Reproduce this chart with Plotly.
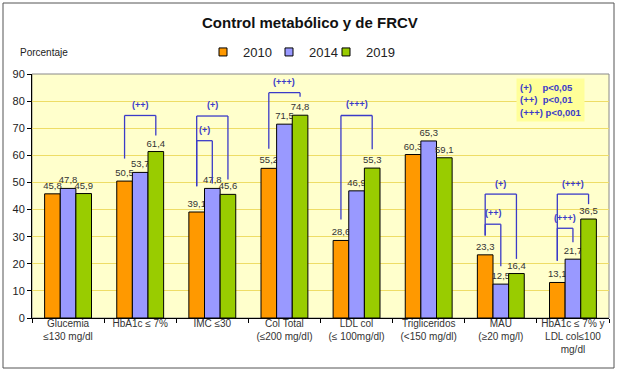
import plotly.graph_objects as go

categories = ["Glucemia<br>≤130 mg/dl", "HbA1c ≤ 7%", "IMC ≤30", "Col Total<br>(≤200 mg/dl)",
              "LDL col<br>(≤ 100mg/dl)", "Trigliceridos<br>(<150 mg/dl)", "MAU<br>(≥20 mg/l)",
              "HbA1c ≤ 7% y<br>LDL col≤100<br>mg/dl"]
years = ["2010", "2014", "2019"]
v2010 = [45.8, 50.5, 39.1, 55.2, 28.6, 60.3, 23.3, 13.1]
v2014 = [47.8, 53.7, 47.8, 71.5, 46.9, 65.3, 12.5, 21.7]
v2019 = [45.9, 61.4, 45.6, 74.8, 55.3, 59.1, 16.4, 36.5]
y_ticks = [0, 10, 20, 30, 40, 50, 60, 70, 80, 90]

# significance brackets: (group, from series, to series, label, top, left foot, right foot, label y)
brackets = [
    (1, 0, 2, "(++)", 74.7, 58.8, 67.3, 78.5),
    (2, 0, 2, "(+)", 74.5, 48.6, 51.1, 78.5),
    (2, 0, 1, "(+)", 65.4, 48.6, 49.6, 69.3),
    (3, 0, 2, "(+++)", 83.1, 62.4, 81.6, 87.0),
    (4, 0, 2, "(+++)", 74.7, 36.3, 62.2, 78.8),
    (6, 0, 2, "(+)", 45.7, 30.4, 21.8, 49.4),
    (6, 0, 1, "(++)", 34.6, 30.4, 19.1, 38.6),
    (7, 0, 2, "(+++)", 45.7, 21.1, 42.0, 49.4),
    (7, 0, 1, "(+++)", 33.1, 21.1, 27.9, 37.0),
]

colors = ["#FF9900", "#9999FF", "#99CC00"]
W, H = 619, 374
ML, MR, MT, MB = 32, 10, 74, 56
BARGAP = 0.35
bw = (1 - BARGAP) / 3
FONT = "Liberation Sans, Arial"

pw = W - ML - MR
ph = H - MT - MB
def px(xp):
    return (xp - ML) / pw
def py(yp):
    return (H - MB - yp) / ph

fig = go.Figure()
for name, vals, col in zip(years, [v2010, v2014, v2019], colors):
    fig.add_trace(go.Bar(
        x=categories, y=vals, name=name, showlegend=False,
        marker=dict(color=col, line=dict(color="#000000", width=1)),
        text=vals, texttemplate="%{y:.1f}", textposition="outside", constraintext="none",
        textfont=dict(size=9.5, color="#333333", family=FONT),
        cliponaxis=False,
    ))

# legend entries (small squares like the original), one legend box per year
legend_ids = ["legend", "legend2", "legend3"]
legend_px = [203, 269, 326]
for name, col, lid in zip(years, colors, legend_ids):
    fig.add_trace(go.Scatter(
        x=[None], y=[None], mode="markers", name=name, legend=lid,
        marker=dict(symbol="square", size=8, color=col, line=dict(color="#000000", width=1)),
    ))

BR = "#3B3BC8"
shapes = []
annotations = []
for g, s1, s2, lab, top, f1, f2, ly in brackets:
    x1 = g + (s1 - 1) * bw
    x2 = g + (s2 - 1) * bw
    for xa, ya, xb, yb in [(x1, f1, x1, top), (x1, top, x2, top), (x2, top, x2, f2)]:
        shapes.append(dict(type="line", xref="x", yref="y", x0=xa, y0=ya, x1=xb, y1=yb,
                           line=dict(color=BR, width=1.3)))
    annotations.append(dict(x=(x1 + x2) / 2, y=ly, xref="x", yref="y", text="<b>" + lab + "</b>",
                            showarrow=False, font=dict(size=9, color=BR, family=FONT)))

# outer frame
shapes.append(dict(type="rect", xref="paper", yref="paper", x0=px(3), x1=px(614), y0=py(368), y1=py(3),
                   line=dict(color="#555555", width=1), fillcolor="rgba(0,0,0,0)", layer="below"))
# plot area frame
shapes.append(dict(type="rect", xref="paper", yref="paper", x0=0, x1=1, y0=0, y1=1,
                   line=dict(color="#888888", width=1), fillcolor="rgba(0,0,0,0)", layer="below"))

annotations.append(dict(x=px(310), y=py(22), xref="paper", yref="paper", xanchor="center", yanchor="middle",
                        text="<b>Control metabólico y de FRCV</b>", showarrow=False,
                        font=dict(size=15, color="#111111", family=FONT)))
annotations.append(dict(x=px(18), y=py(52), xref="paper", yref="paper", xanchor="left", yanchor="middle",
                        text="Porcentaje", showarrow=False,
                        font=dict(size=10, color="#222222", family=FONT)))
annotations.append(dict(x=px(516), y=py(78), xref="paper", yref="paper", xanchor="left", yanchor="top",
                        text="<b>(+)    p<0,05<br>(++)  p<0,01<br>(+++) p<0,001</b>",
                        align="left", showarrow=False, bgcolor="#FFFF99", borderpad=3,
                        font=dict(size=9.5, color=BR, family=FONT)))

legend_layout = {}
for lid, lx in zip(legend_ids, legend_px):
    legend_layout[lid] = dict(orientation="h", x=px(lx), y=py(52), xanchor="left", yanchor="middle",
                              xref="paper", yref="paper",
                              font=dict(size=13, color="#222222", family=FONT),
                              bgcolor="rgba(0,0,0,0)", itemwidth=30)

fig.update_layout(
    width=W, height=H,
    margin=dict(l=ML, r=MR, t=MT, b=MB),
    paper_bgcolor="#FFFFFF", plot_bgcolor="#FFFFCC",
    separators=",.",
    barmode="group", bargap=BARGAP, bargroupgap=0,
    xaxis=dict(type="category", tickson="boundaries", ticks="outside", ticklen=4, tickcolor="#000000",
               showline=True, linecolor="#000000", linewidth=1, showgrid=False,
               tickfont=dict(size=10, color="#333333", family=FONT),
               tickangle=0, ticklabelstandoff=-4),
    yaxis=dict(range=[0, 90], tickvals=y_ticks, ticks="outside", ticklen=4, tickcolor="#000000",
               showline=True, linecolor="#000000", linewidth=1,
               showgrid=True, gridcolor="#EEDD66", gridwidth=1, zeroline=False,
               tickfont=dict(size=11, color="#222222", family=FONT)),
    shapes=shapes, annotations=annotations,
    font=dict(family=FONT),
    **legend_layout,
)

fig.write_html("out.html", config={"displayModeBar": False},
               post_script="document.body.style.margin='0';")
